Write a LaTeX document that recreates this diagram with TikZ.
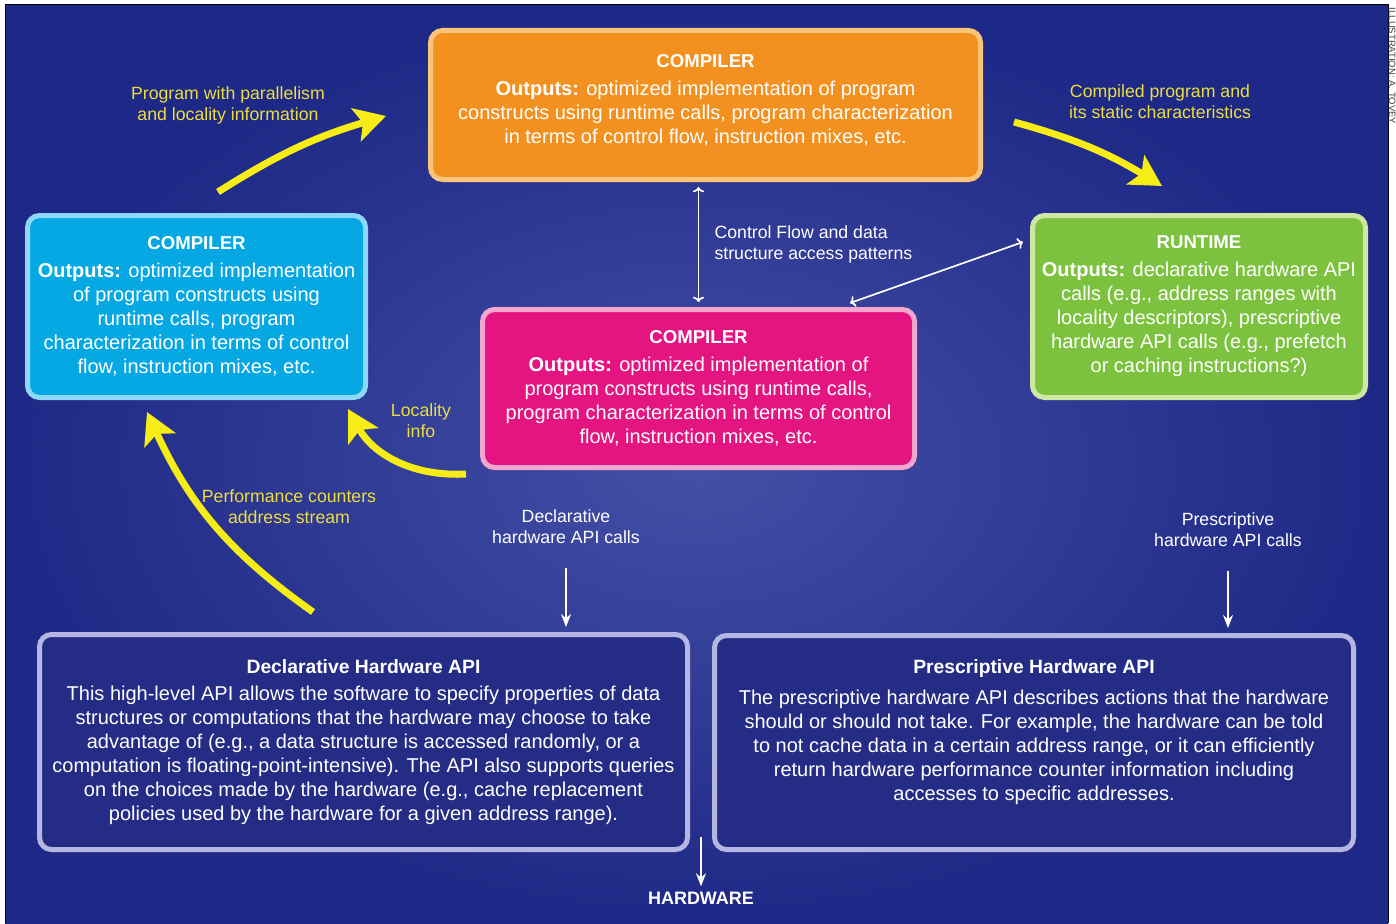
\documentclass[tikz,border=0pt]{standalone}
\usepackage{fontspec}
\setmainfont{Liberation Sans}
\usepackage{xcolor}
\usetikzlibrary{arrows.meta, positioning, calc}

\definecolor{bgout}{RGB}{30,40,134}
\definecolor{bgin}{RGB}{68,80,166}
\definecolor{orangefill}{RGB}{242,145,32}
\definecolor{orangeedge}{RGB}{250,196,122}
\definecolor{cyanfill}{RGB}{6,168,228}
\definecolor{cyanedge}{RGB}{140,216,246}
\definecolor{magfill}{RGB}{228,20,128}
\definecolor{magedge}{RGB}{244,166,206}
\definecolor{greenfill}{RGB}{124,194,62}
\definecolor{greenedge}{RGB}{206,232,162}
\definecolor{apifill}{RGB}{36,44,134}
\definecolor{apiedge}{RGB}{182,182,226}
\definecolor{labelyellow}{RGB}{236,222,62}
\definecolor{arrowyellow}{RGB}{246,236,22}

\begin{document}
\begin{tikzpicture}[
    x=1pt, y=-1pt,
    boxtext/.style={align=center, text=white, font=\fontsize{20}{24}\selectfont},
    box/.style={boxtext, rectangle, draw, line width=5pt, rounded corners=12pt},
    apibox/.style={box, fill=apifill, draw=apiedge},
    lbl/.style={align=center, font=\fontsize{17.7}{21}\selectfont, text=labelyellow},
    wlbl/.style={lbl, text=white},
    yarrow/.style={-{Stealth[length=31pt, width=34pt, inset=7pt]}, line width=7pt, draw=arrowyellow},
    warrow/.style={-{Stealth[length=13pt, width=10pt]}, line width=1.7pt, draw=white}
]
\useasboundingbox (0,0) rectangle (1396,923);

% Background
\fill[white] (0,0) rectangle (1396,923);
\shade[inner color=bgin, outer color=bgout] (5,5) rectangle (1388,923);
\draw[black, line width=1pt] (5,923) -- (5,5) -- (1388,5) -- (1388,923);
\node[rotate=-90, font=\fontsize{9.5}{10}\selectfont, text=darkgray] (credit) at (1392,66) {ILLUSTRATION: A. TOVEY};

% Compiler (top)
\node[box, fill=orangefill, draw=orangeedge, minimum width=550pt, minimum height=149pt] (compTop) at (705.5,105) {};
\node[boxtext] (compTopText) at ([yshift=5pt]compTop.center)
  {{\fontsize{18.6}{24}\selectfont\bfseries COMPILER}\\[4pt]
   \textbf{Outputs:} optimized implementation of program\\
   constructs using runtime calls, program characterization\\
   in terms of control flow, instruction mixes, etc.};

% Compiler (left)
\node[box, fill=cyanfill, draw=cyanedge, minimum width=338pt, minimum height=182pt] (compLeft) at (196.5,306.5)
  {{\fontsize{18.6}{24}\selectfont\bfseries COMPILER}\\[4pt]
   \textbf{Outputs:} optimized implementation\\
   of program constructs using\\
   runtime calls, program\\
   characterization in terms of control\\
   flow, instruction mixes, etc.};

% Compiler (middle)
\node[box, fill=magfill, draw=magedge, minimum width=432pt, minimum height=158pt] (compMid) at (698.5,388.5)
  {{\fontsize{18.6}{24}\selectfont\bfseries COMPILER}\\[4pt]
   \textbf{Outputs:} optimized implementation of\\
   program constructs using runtime calls,\\
   program characterization in terms of control\\
   flow, instruction mixes, etc.};

% Runtime
\node[box, fill=greenfill, draw=greenedge, minimum width=333pt, minimum height=182pt] (runtime) at (1199,306.5)
  {{\fontsize{18.6}{24}\selectfont\bfseries RUNTIME}\\[4pt]
   \textbf{Outputs:} declarative hardware API\\
   calls (e.g., address ranges with\\
   locality descriptors), prescriptive\\
   hardware API calls (e.g., prefetch\\
   or caching instructions?)};

% Hardware APIs
\node[apibox, minimum width=648pt, minimum height=215pt] (declApi) at (363.5,742)
  {{\fontsize{19.3}{24}\selectfont\bfseries Declarative Hardware API}\\[3pt]
   This high-level API allows the software to specify properties of data\\
   structures or computations that the hardware may choose to take\\
   advantage of (e.g., a data structure is accessed randomly, or a\\
   computation is floating-point-intensive). The API also supports queries\\
   on the choices made by the hardware (e.g., cache replacement\\
   policies used by the hardware for a given address range).};

\node[apibox, minimum width=639pt, minimum height=214pt] (presApi) at (1034,742.5) {};
\node[boxtext] (presApiText) at ([yshift=10pt]presApi.center)
  {{\fontsize{19.3}{24}\selectfont\bfseries Prescriptive Hardware API}\\[7pt]
   The prescriptive hardware API describes actions that the hardware\\
   should or should not take. For example, the hardware can be told\\
   to not cache data in a certain address range, or it can efficiently\\
   return hardware performance counter information including\\
   accesses to specific addresses.};

\node[font=\fontsize{18}{24}\selectfont\bfseries, text=white] (hardware) at (701,898) {HARDWARE};

% Labels
\node[lbl] (parLbl) at (228,105) {Program with parallelism\\and locality information};
\node[lbl] (staticLbl) at (1160,102) {Compiled program and\\its static characteristics};
\node[wlbl, align=left, anchor=west] (flowLbl) at (711,244) {Control Flow and data\\structure access patterns};
\node[lbl] (locLbl) at (421,421) {Locality\\info};
\node[lbl] (perfLbl) at (289,507) {Performance counters\\address stream};
\node[wlbl] (declLbl) at (566,527) {Declarative\\hardware API calls};
\node[wlbl] (presLbl) at (1228,530) {Prescriptive\\hardware API calls};

% Yellow arrows
\coordinate (parTail) at (218,192);
\coordinate (parTip) at (386,116);
\coordinate (staticTail) at (1014,122);
\coordinate (staticTip) at (1162,186);
\coordinate (locTail) at (466,474);
\coordinate (locTip) at (348,409);
\coordinate (perfTail) at (313,612);
\coordinate (perfTip) at (147,412);
\draw[yarrow] (parTail) to[bend left=8] (parTip);
\draw[yarrow] (staticTail) to[bend left=8] (staticTip);
\draw[yarrow] (locTail) to[bend left=32] (locTip);
\draw[yarrow] (perfTail) to[bend left=15] (perfTip);

% White arrows
\draw[warrow, <->, shorten <=5pt, shorten >=5pt] (compTop.south -| compMid.north) -- (compMid.north);
\draw[warrow, <->] ([xshift=-7pt, yshift=-29pt]runtime.north west) -- ([xshift=-67pt, yshift=4pt]compMid.north east);
\draw[warrow, shorten <=20pt, shorten >=5pt] (declLbl.south) -- (declLbl.south |- declApi.north);
\draw[warrow, shorten <=20pt, shorten >=5pt] (presLbl.south) -- (presLbl.south |- presApi.north);
\coordinate (hwTop) at (701,837);
\draw[warrow, shorten >=2pt] (hwTop) -- (hardware.north);

\end{tikzpicture}
\end{document}
